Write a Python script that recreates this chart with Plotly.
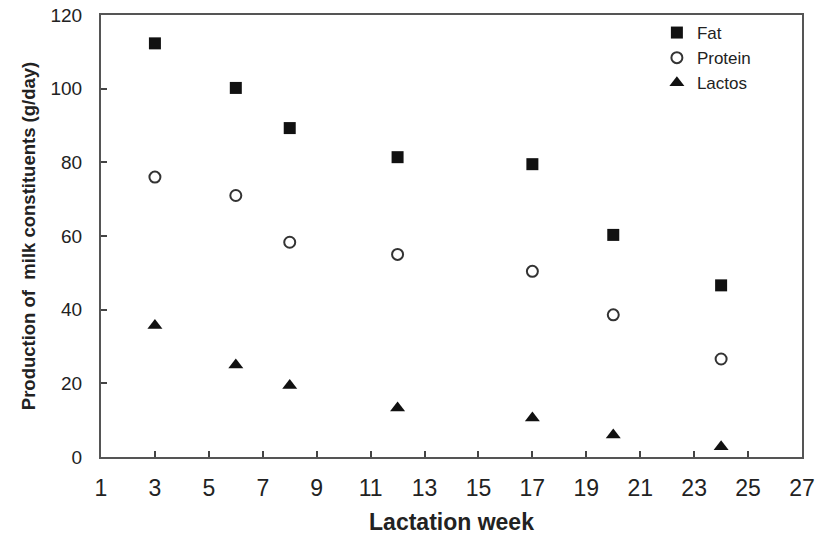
import plotly.graph_objects as go

weeks = [3, 6, 8, 12, 17, 20, 24]
fat = [112.3, 100.2, 89.3, 81.4, 79.5, 60.3, 46.6]
protein = [76.0, 71.0, 58.3, 55.0, 50.4, 38.6, 26.6]
lactos = [35.7, 25.0, 19.4, 13.3, 10.6, 6.0, 2.8]

x_ticks = list(range(1, 28, 2))
y_ticks = list(range(0, 121, 20))

fig = go.Figure()
fig.add_trace(go.Scatter(x=weeks, y=fat, mode="markers", name="Fat",
                         marker=dict(symbol="square", size=12, color="#111111")))
fig.add_trace(go.Scatter(x=weeks, y=protein, mode="markers", name="Protein",
                         marker=dict(symbol="circle-open", size=11, color="#333333",
                                     line=dict(width=2, color="#333333"))))
fig.add_trace(go.Scatter(x=weeks, y=lactos, mode="markers", name="Lactos",
                         marker=dict(symbol="triangle-up", size=13, color="#111111")))

font_family = "Liberation Sans, Arial, sans-serif"

fig.update_layout(
    width=835, height=542,
    margin=dict(l=101, r=33, t=15, b=85, autoexpand=False),
    paper_bgcolor="white", plot_bgcolor="white",
    font=dict(family=font_family, color="#222222", size=18),
    showlegend=True,
    legend=dict(x=0.793, y=1.0, xanchor="left", yanchor="top",
                bgcolor="rgba(0,0,0,0)", borderwidth=0,
                font=dict(size=17, color="#222222"),
                itemwidth=30, tracegroupgap=0),
    xaxis=dict(range=[1, 27], tickvals=x_ticks, ticktext=[str(v) for v in x_ticks],
               ticks="inside", ticklen=6, tickwidth=1.5, tickcolor="#444444",
               showline=True, linewidth=2, linecolor="#555555", mirror=True,
               showgrid=False, zeroline=False, ticklabelstandoff=9, automargin=False,
               tickfont=dict(size=23),
               title=dict(text="<b>Lactation week</b>", font=dict(size=23), standoff=14)),
    yaxis=dict(range=[0, 120], tickvals=y_ticks, ticktext=[str(v) for v in y_ticks],
               ticks="inside", ticklen=6, tickwidth=1.5, tickcolor="#444444",
               showline=True, linewidth=2, linecolor="#555555", mirror=True,
               showgrid=False, zeroline=False, ticklabelstandoff=13, automargin=False,
               tickfont=dict(size=19),
               title=dict(text="<b>Production of  milk constituents (g/day)</b>",
                          font=dict(size=18.5), standoff=10)),
)

fig.write_html("out.html")
